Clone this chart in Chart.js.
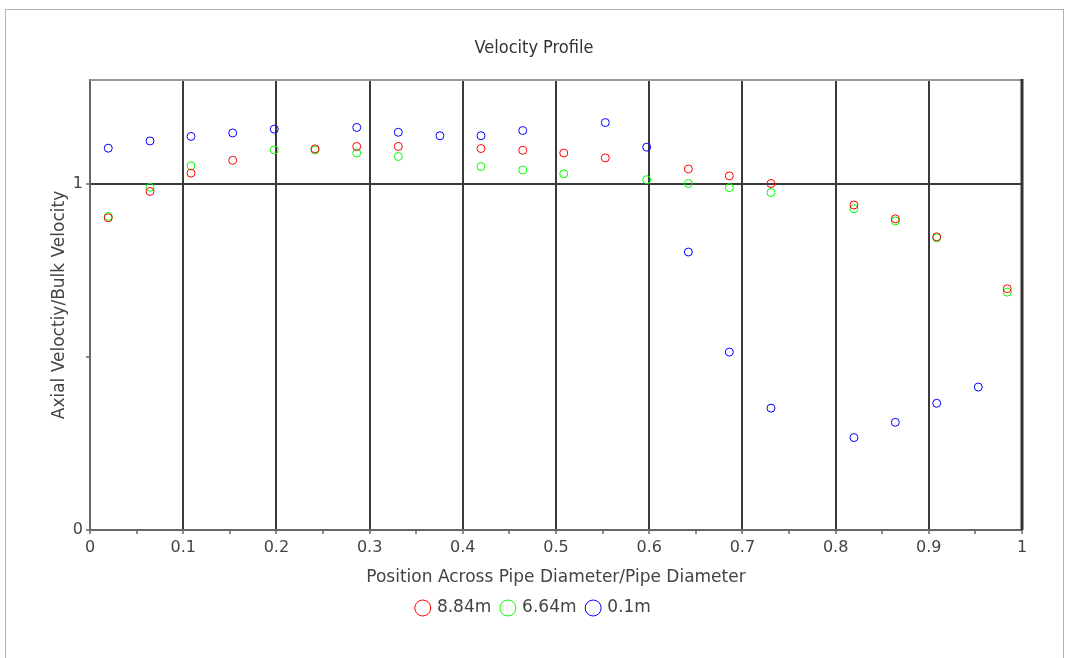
<!DOCTYPE html>
<html>
<head>
<meta charset="utf-8">
<script src="https://cdn.jsdelivr.net/npm/chart.js@4.4.1/dist/chart.umd.min.js"></script>
<style>
  html, body { margin: 0; padding: 0; background: #fff; }
  #frame { position: absolute; left: 5px; top: 9px; width: 1057px; height: 700px; border: 1px solid #b4b4b4; }
  #c { position: absolute; left: 0; top: 0; }
</style>
</head>
<body>
<div id="frame"></div>
<canvas id="c" width="1068" height="658"></canvas>
<script>
// ---- data ----
const seriesNames = ['8.84m', '6.64m', '0.1m'];
const seriesColors = ['#ff0000', '#00ff00', '#0000ff'];

const pos884 = [0.0196, 0.0644, 0.1084, 0.1531, 0.2414, 0.2862, 0.3308, 0.4195, 0.4643, 0.5083, 0.5529, 0.6420, 0.6860, 0.7307, 0.8197, 0.8641, 0.9085, 0.9842];
const vel884 = [0.902, 0.978, 1.031, 1.068, 1.101, 1.108, 1.108, 1.102, 1.097, 1.089, 1.075, 1.043, 1.023, 1.001, 0.939, 0.899, 0.847, 0.697];

const pos664 = [0.0196, 0.0644, 0.1084, 0.1977, 0.2414, 0.2862, 0.3308, 0.4195, 0.4643, 0.5083, 0.5973, 0.6420, 0.6860, 0.7307, 0.8197, 0.8641, 0.9085, 0.9842];
const vel664 = [0.906, 0.990, 1.052, 1.098, 1.098, 1.089, 1.079, 1.050, 1.040, 1.029, 1.012, 1.001, 0.989, 0.975, 0.928, 0.893, 0.844, 0.687];

const pos01 = [0.0196, 0.0644, 0.1084, 0.1531, 0.1977, 0.2862, 0.3308, 0.3755, 0.4195, 0.4643, 0.5529, 0.5973, 0.6420, 0.6860, 0.7307, 0.8197, 0.8641, 0.9085, 0.9531];
const vel01 = [1.103, 1.124, 1.137, 1.147, 1.158, 1.163, 1.149, 1.139, 1.139, 1.154, 1.177, 1.106, 0.803, 0.514, 0.352, 0.267, 0.311, 0.366, 0.413];

const xTickValues = [0, 0.05, 0.1, 0.15, 0.2, 0.25, 0.3, 0.35, 0.4, 0.45, 0.5, 0.55, 0.6, 0.65, 0.7, 0.75, 0.8, 0.85, 0.9, 0.95, 1];
const xTickLabels = ['0', '', '0.1', '', '0.2', '', '0.3', '', '0.4', '', '0.5', '', '0.6', '', '0.7', '', '0.8', '', '0.9', '', '1'];
const xGridValues = [0.1, 0.2, 0.3, 0.4, 0.5, 0.6, 0.7, 0.8, 0.9];
const yTickValues = [0, 0.5, 1];
const yTickLabels = ['0', '', '1'];
const yGridValues = [1];

const FONT = "'DejaVu Sans', 'Liberation Sans', sans-serif";
const TITLE_FONT = "'DejaVu Sans Condensed', 'DejaVu Sans', sans-serif";

function makeDataset(i, xs, ys) {
  return {
    label: seriesNames[i],
    data: xs.map((x, k) => ({ x: x, y: ys[k] })),
    borderColor: seriesColors[i],
    backgroundColor: 'rgba(0,0,0,0)',
    pointBackgroundColor: 'rgba(0,0,0,0)',
    pointBorderColor: seriesColors[i],
    pointStyle: 'circle',
    pointRadius: 4,
    pointHoverRadius: 4,
    borderWidth: 1,
    pointBorderWidth: 1,
    showLine: false
  };
}

const near = (v, list) => list.some(g => Math.abs(g - v) < 1e-6);

const frameBorder = {
  id: 'frameBorder',
  beforeDatasetsDraw(chart) {
    const { ctx, chartArea: a } = chart;
    ctx.save();
    ctx.strokeStyle = '#999';
    ctx.lineWidth = 2;
    ctx.beginPath();
    ctx.moveTo(a.left, a.top);
    ctx.lineTo(a.right, a.top);
    ctx.stroke();
    ctx.strokeStyle = '#333';
    ctx.lineWidth = 3;
    ctx.beginPath();
    ctx.moveTo(a.right, a.top - 1);
    ctx.lineTo(a.right, a.bottom);
    ctx.stroke();
    ctx.restore();
  }
};

new Chart(document.getElementById('c'), {
  type: 'scatter',
  data: {
    datasets: [
      makeDataset(0, pos884, vel884),
      makeDataset(1, pos664, vel664),
      makeDataset(2, pos01, vel01)
    ]
  },
  options: {
    responsive: false,
    animation: false,
    devicePixelRatio: 1,
    layout: { padding: { left: 0, right: 0, top: 0, bottom: 31.5 } },
    plugins: {
      title: {
        display: true,
        text: 'Velocity Profile',
        color: '#333',
        font: { family: TITLE_FONT, size: 18, weight: 'normal' },
        padding: { top: 37.7, bottom: 20.7 }
      },
      legend: {
        position: 'bottom',
        labels: {
          usePointStyle: true,
          boxWidth: 11.3,
          boxHeight: 11.3,
          padding: 11,
          color: '#444',
          font: { family: FONT, size: 17 }
        }
      },
      tooltip: { enabled: false }
    },
    scales: {
      x: {
        type: 'linear',
        min: 0,
        max: 1,
        afterBuildTicks: s => { s.ticks = xTickValues.map(v => ({ value: v })); },
        afterFit: s => { s.height = 58.5; s.paddingRight = 46; },
        ticks: {
          autoSkip: false,
          maxRotation: 0,
          minRotation: 0,
          padding: 4,
          color: '#444',
          font: { family: FONT, size: 16 },
          callback: (v, i) => xTickLabels[i]
        },
        grid: {
          color: c => (c.tick && near(c.tick.value, xGridValues)) ? '#3a3a3a' : 'rgba(0,0,0,0)',
          lineWidth: 2,
          drawTicks: true,
          tickLength: 4,
          tickColor: '#666',
          tickWidth: 1.5
        },
        border: { display: true, color: '#666', width: 2 },
        title: {
          display: true,
          text: 'Position Across Pipe Diameter/Pipe Diameter',
          color: '#444',
          font: { family: FONT, size: 17 },
          padding: { top: 0, bottom: 0.3 }
        }
      },
      y: {
        type: 'linear',
        min: 0,
        max: 1.3,
        afterBuildTicks: s => { s.ticks = yTickValues.map(v => ({ value: v })); },
        afterFit: s => { s.width = 90; },
        ticks: {
          padding: 3,
          color: '#444',
          font: { family: FONT, size: 16 },
          callback: (v, i) => yTickLabels[i]
        },
        grid: {
          color: c => (c.tick && near(c.tick.value, yGridValues)) ? '#3a3a3a' : 'rgba(0,0,0,0)',
          lineWidth: 2,
          drawTicks: true,
          tickLength: 4,
          tickColor: '#666',
          tickWidth: 1.5
        },
        border: { display: true, color: '#666', width: 2 },
        title: {
          display: true,
          text: 'Axial Veloctiy/Bulk Velocity',
          color: '#444',
          font: { family: FONT, size: 17 },
          padding: { top: 49.8, bottom: 0 }
        }
      }
    }
  },
  plugins: [frameBorder]
});
</script>
</body>
</html>
